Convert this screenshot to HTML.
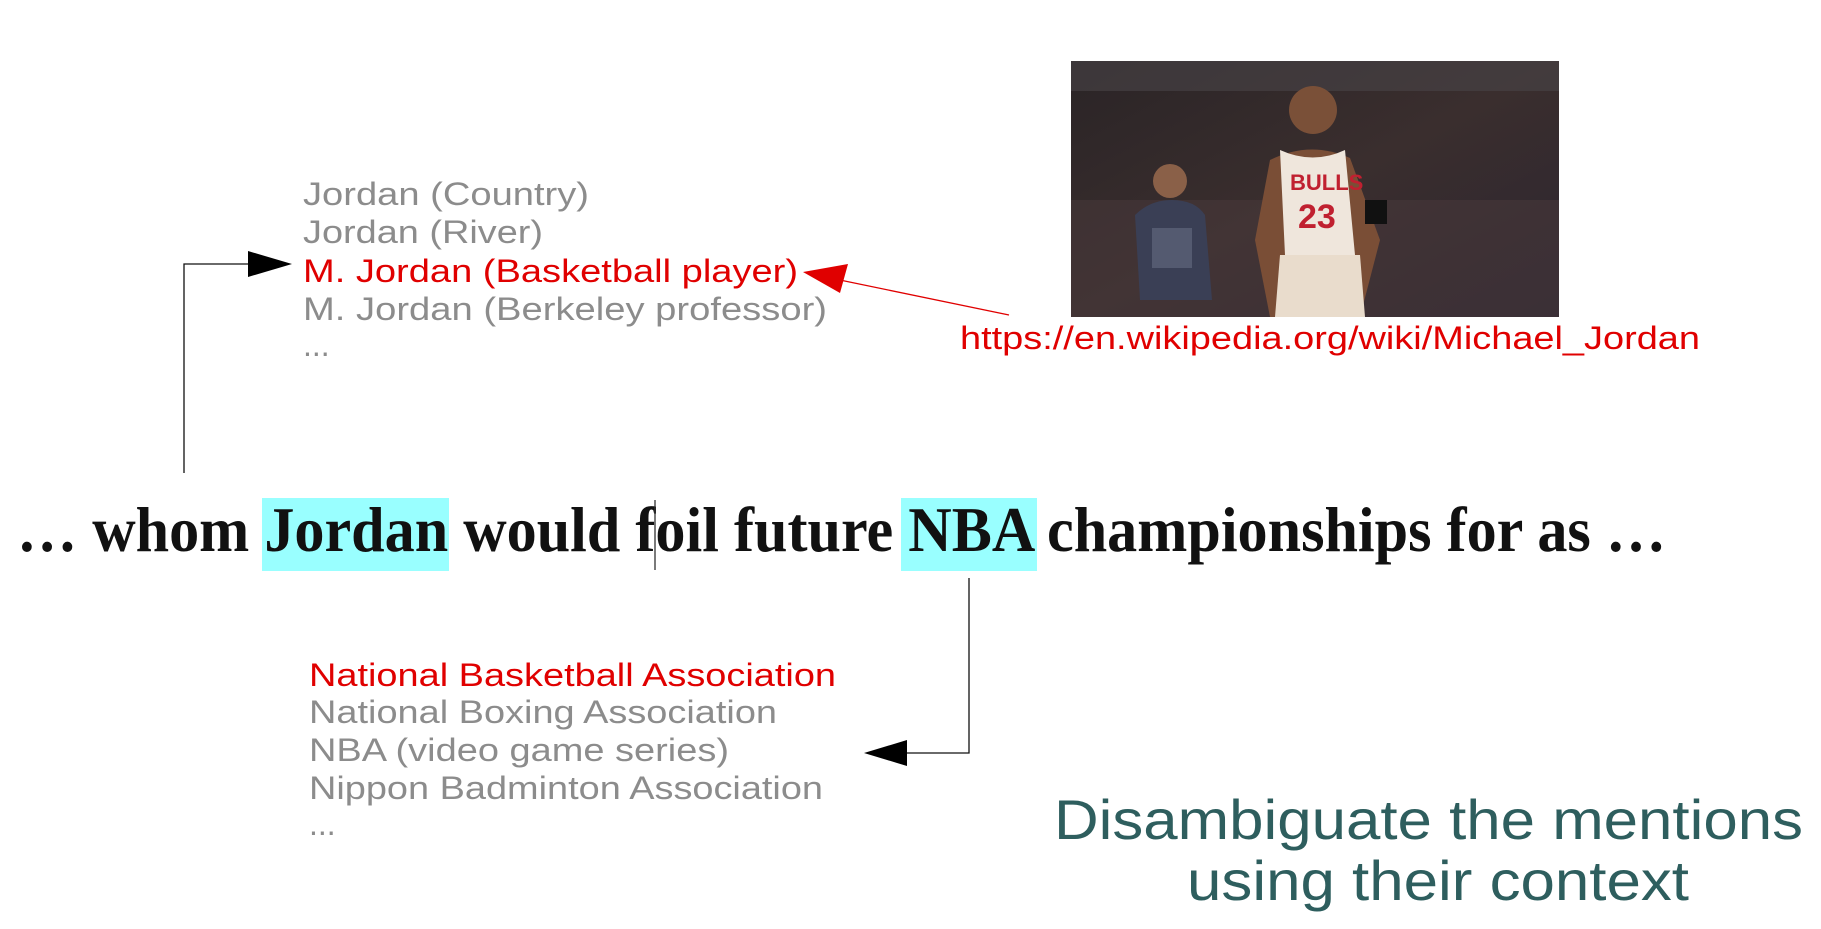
<!DOCTYPE html>
<html><head><meta charset="utf-8"><style>
html,body{margin:0;padding:0;background:#fff;}
svg{display:block;}
</style></head><body>
<svg width="1821" height="929" viewBox="0 0 1821 929" style="font-family:'Liberation Sans',sans-serif">
<defs>
<linearGradient id="crowd" x1="0" y1="0" x2="1" y2="1">
<stop offset="0" stop-color="#2a2426"/><stop offset="0.5" stop-color="#3a2e2e"/><stop offset="1" stop-color="#2c2530"/>
</linearGradient>
</defs>
<g>
<rect x="1071" y="61" width="488" height="256" fill="url(#crowd)"/>
<rect x="1071" y="61" width="488" height="30" fill="#4a4448" opacity="0.6"/>
<rect x="1071" y="200" width="488" height="117" fill="#4a3a3c" opacity="0.5"/>
<circle cx="1170" cy="181" r="17" fill="#8a6048"/>
<path d="M1135 215 Q1150 200 1172 200 Q1195 200 1205 215 L1212 300 L1140 300 Z" fill="#3a3f55"/>
<rect x="1152" y="228" width="40" height="40" fill="#545a70"/>
<circle cx="1313" cy="110" r="24" fill="#7a5038"/>
<path d="M1270 160 Q1310 140 1350 158 L1380 240 L1360 317 L1270 317 L1255 240 Z" fill="#7a4e36"/>
<path d="M1280 150 Q1313 165 1345 150 L1355 255 L1285 255 Z" fill="#efe6dc"/>
<path d="M1280 255 L1360 255 L1365 317 L1275 317 Z" fill="#e9dccc"/>
<text x="1290" y="190" font-size="22" font-weight="bold" fill="#c02030">BULLS</text>
<text x="1298" y="228" font-size="34" font-weight="bold" fill="#c02030">23</text>
<rect x="1365" y="200" width="22" height="24" fill="#111"/>
</g>
<g font-size="32">
<text x="303" y="205" fill="#8c8c8c" textLength="286" lengthAdjust="spacingAndGlyphs">Jordan (Country)</text>
<text x="303" y="243" fill="#8c8c8c" textLength="240" lengthAdjust="spacingAndGlyphs">Jordan (River)</text>
<text x="303" y="282" fill="#e00000" textLength="495" lengthAdjust="spacingAndGlyphs">M. Jordan (Basketball player)</text>
<text x="303" y="320" fill="#8c8c8c" textLength="524" lengthAdjust="spacingAndGlyphs">M. Jordan (Berkeley professor)</text>
<text x="303" y="356" fill="#8c8c8c">...</text>
</g>
<text x="960" y="349" font-size="32" fill="#e00000" textLength="740" lengthAdjust="spacingAndGlyphs">https://en.wikipedia.org/wiki/Michael_Jordan</text>
<g>
<line x1="1009" y1="315" x2="835" y2="279" stroke="#e00000" stroke-width="1.3"/>
<polygon points="803,272 848,264 840,293" fill="#e00000"/>
</g>
<rect x="262" y="498" width="187" height="73" fill="#99ffff"/>
<rect x="901" y="498" width="136" height="73" fill="#99ffff"/>
<text x="17" y="551" style="font-family:'Liberation Serif',serif;font-weight:bold" font-size="64" fill="#111" textLength="1649" lengthAdjust="spacingAndGlyphs">… whom Jordan would foil future NBA championships for as …</text>
<line x1="655" y1="500" x2="655" y2="570" stroke="#333" stroke-width="1.3"/>
<g>
<polyline points="184,473 184,264 250,264" fill="none" stroke="#111" stroke-width="1.3"/>
<polygon points="292,264 248,251 248,277" fill="#000"/>
</g>
<g>
<polyline points="969,578 969,753 905,753" fill="none" stroke="#111" stroke-width="1.3"/>
<polygon points="864,753 907,740 907,766" fill="#000"/>
</g>
<g font-size="32">
<text x="309" y="686" fill="#e00000" textLength="527" lengthAdjust="spacingAndGlyphs">National Basketball Association</text>
<text x="309" y="723" fill="#8c8c8c" textLength="468" lengthAdjust="spacingAndGlyphs">National Boxing Association</text>
<text x="309" y="761" fill="#8c8c8c" textLength="420" lengthAdjust="spacingAndGlyphs">NBA (video game series)</text>
<text x="309" y="799" fill="#8c8c8c" textLength="514" lengthAdjust="spacingAndGlyphs">Nippon Badminton Association</text>
<text x="309" y="835" fill="#8c8c8c">...</text>
</g>
<g font-size="56" fill="#2e5e5e">
<text x="1054" y="839" textLength="749" lengthAdjust="spacingAndGlyphs">Disambiguate the mentions</text>
<text x="1187" y="900" textLength="502" lengthAdjust="spacingAndGlyphs">using their context</text>
</g>
</svg>
</body></html>
